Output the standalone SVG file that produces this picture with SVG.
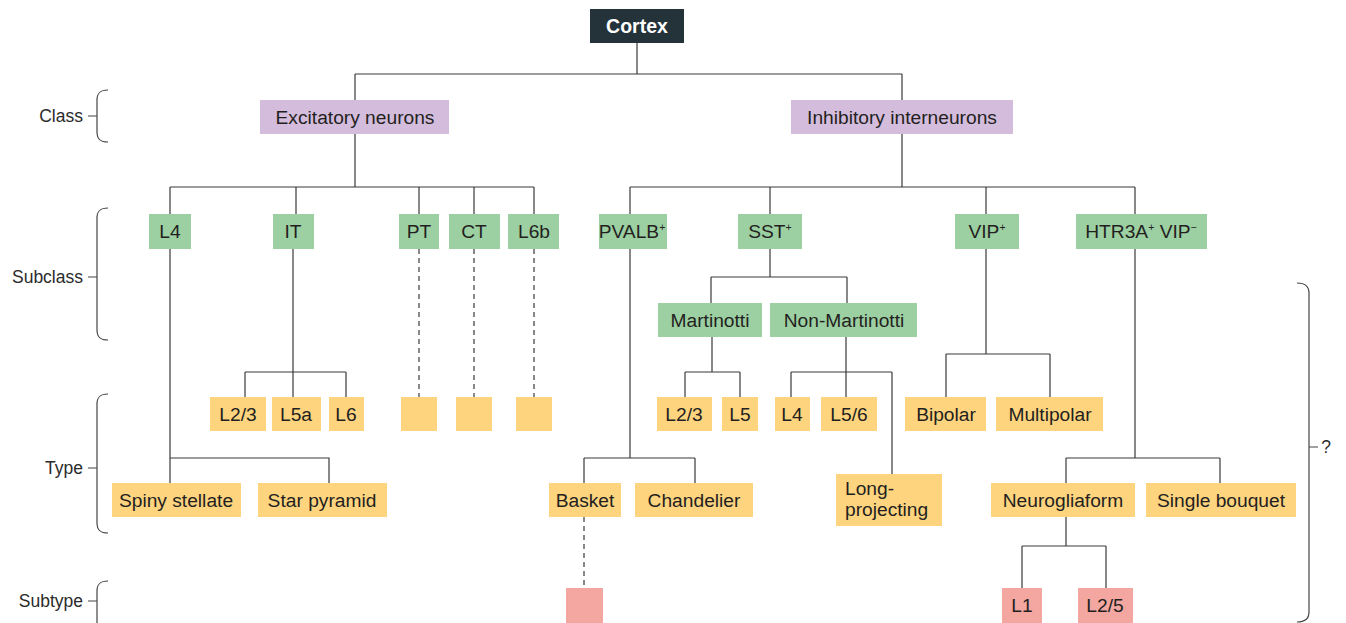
<svg xmlns="http://www.w3.org/2000/svg" width="1346" height="623" viewBox="0 0 1346 623">
<defs>
<style>
.bg{fill:#ffffff}
.lbl{font-family:"Liberation Sans",Arial,sans-serif;font-size:19.2px;fill:#231f20;text-anchor:middle}
.side{font-family:"Liberation Sans",Arial,sans-serif;font-size:17.5px;fill:#2b2b2b;text-anchor:end}
.root{fill:#24323a}
.cls{fill:#d4bcdc}
.sub{fill:#9ccfa2}
.typ{fill:#fed47f}
.st{fill:#f4a7a1}
.ln{fill:none;stroke:#3a3a3a;stroke-width:1.2}
.dash{fill:none;stroke:#3a3a3a;stroke-width:1.2;stroke-dasharray:5 4}
.br{fill:none;stroke:#444;stroke-width:1.2}
.sup{font-size:10.5px}
</style>
</defs>
<rect class="bg" width="1346" height="623"/>

<g id="level-labels">
<text class="side" x="83" y="122">Class</text>
<path class="br" d="M108,90 C100,90 97,93 97,100 V132 C97,139 100,142 108,142 M88,116 H97"/>
<text class="side" x="83" y="283">Subclass</text>
<path class="br" d="M108,208 C100,208 97,211 97,218 V330 C97,337 100,340 108,340 M88,277 H97"/>
<text class="side" x="83" y="474">Type</text>
<path class="br" d="M108,394 C100,394 97,397 97,404 V523 C97,530 100,533 108,533 M88,468 H97"/>
<text class="side" x="83" y="607">Subtype</text>
<path class="br" d="M108,581 C100,581 97,584 97,591 V630 M88,601 H97"/>
<path class="br" d="M1297,283 C1305,283 1309,286 1309,293 V612 C1309,619 1305,622 1297,622 M1309,447 H1318"/>
<text class="side" x="1331" y="453" style="text-anchor:end">?</text>
</g>

<g id="connectors">
<path class="ln" d="M637,43 V74 M355,74 H902 M355,74 V100 M902,74 V100"/>
<path class="ln" d="M355,134 V187 M170,187 H534 M170,187 V214 M296,187 V214 M419,187 V214 M474,187 V214 M534,187 V214"/>
<path class="ln" d="M902,134 V187 M630,187 H1135 M630,187 V214 M770,187 V214 M986,187 V214 M1135,187 V214"/>
<path class="ln" d="M170,249 V483 M170,458 H329 V483"/>
<path class="ln" d="M293,249 V397 M245,372 H346 M245,372 V397 M346,372 V397"/>
<path class="dash" d="M419,249 V397 M474,249 V397 M534,249 V397"/>
<path class="ln" d="M630,249 V458 M584,458 H695 M584,458 V483 M695,458 V483"/>
<path class="dash" d="M584,517 V588"/>
<path class="ln" d="M770,249 V277 M711,277 H847 M711,277 V303 M847,277 V303"/>
<path class="ln" d="M712,337 V372 M685,372 H740 M685,372 V397 M740,372 V397"/>
<path class="ln" d="M846,337 V397 M791,372 H892 M791,372 V397 M892,372 V474"/>
<path class="ln" d="M986,249 V354 M946,354 H1050 M946,354 V397 M1050,354 V397"/>
<path class="ln" d="M1135,249 V458 M1066,458 H1220 M1066,458 V483 M1220,458 V483"/>
<path class="ln" d="M1066,517 V546 M1022,546 H1106 M1022,546 V588 M1106,546 V588"/>
</g>

<g id="n-cortex"><rect class="root" x="590" y="9" width="94" height="34"/><text x="637" y="33" style="font-family:'Liberation Sans',Arial,sans-serif;font-size:19.5px;font-weight:bold;fill:#ffffff;text-anchor:middle">Cortex</text></g>

<g id="n-excitatory"><rect class="cls" x="260" y="100" width="189" height="34"/><text class="lbl" x="355" y="124">Excitatory neurons</text></g>
<g id="n-inhibitory"><rect class="cls" x="791" y="100" width="222" height="34"/><text class="lbl" x="902" y="124">Inhibitory interneurons</text></g>

<g id="n-l4"><rect class="sub" x="149" y="214" width="42" height="35"/><text class="lbl" x="170" y="238">L4</text></g>
<g id="n-it"><rect class="sub" x="273" y="214" width="41" height="35"/><text class="lbl" x="293" y="238">IT</text></g>
<g id="n-pt"><rect class="sub" x="399" y="214" width="40" height="35"/><text class="lbl" x="419" y="238">PT</text></g>
<g id="n-ct"><rect class="sub" x="449" y="214" width="51" height="35"/><text class="lbl" x="474" y="238">CT</text></g>
<g id="n-l6b"><rect class="sub" x="508" y="214" width="51" height="35"/><text class="lbl" x="534" y="238">L6b</text></g>
<g id="n-pvalb"><rect class="sub" x="599" y="214" width="68" height="35"/><text class="lbl" x="632" y="238">PVALB<tspan class="sup" dy="-7">+</tspan></text></g>
<g id="n-sst"><rect class="sub" x="738" y="214" width="64" height="35"/><text class="lbl" x="770" y="238">SST<tspan class="sup" dy="-7">+</tspan></text></g>
<g id="n-vip"><rect class="sub" x="955" y="214" width="64" height="35"/><text class="lbl" x="987" y="238">VIP<tspan class="sup" dy="-7">+</tspan></text></g>
<g id="n-htr3a"><rect class="sub" x="1076" y="214" width="131" height="35"/><text class="lbl" x="1141" y="238">HTR3A<tspan class="sup" dy="-7">+</tspan><tspan dy="7"> VIP</tspan><tspan class="sup" dy="-7">−</tspan></text></g>

<g id="n-martinotti"><rect class="sub" x="658" y="303" width="104" height="34"/><text class="lbl" x="710" y="327">Martinotti</text></g>
<g id="n-nonmartinotti"><rect class="sub" x="770" y="303" width="147" height="34"/><text class="lbl" x="844" y="327">Non-Martinotti</text></g>

<g id="n-it-l23"><rect class="typ" x="210" y="397" width="56" height="34"/><text class="lbl" x="238" y="421">L2/3</text></g>
<g id="n-it-l5a"><rect class="typ" x="272" y="397" width="49" height="34"/><text class="lbl" x="296" y="421">L5a</text></g>
<g id="n-it-l6"><rect class="typ" x="329" y="397" width="35" height="34"/><text class="lbl" x="346" y="421">L6</text></g>
<g id="n-pt-type"><rect class="typ" x="401" y="397" width="36" height="34"/></g>
<g id="n-ct-type"><rect class="typ" x="456" y="397" width="36" height="34"/></g>
<g id="n-l6b-type"><rect class="typ" x="516" y="397" width="36" height="34"/></g>
<g id="n-sst-l23"><rect class="typ" x="657" y="397" width="55" height="34"/><text class="lbl" x="684" y="421">L2/3</text></g>
<g id="n-sst-l5"><rect class="typ" x="722" y="397" width="36" height="34"/><text class="lbl" x="740" y="421">L5</text></g>
<g id="n-sst-l4"><rect class="typ" x="775" y="397" width="35" height="34"/><text class="lbl" x="792" y="421">L4</text></g>
<g id="n-sst-l56"><rect class="typ" x="821" y="397" width="56" height="34"/><text class="lbl" x="849" y="421">L5/6</text></g>
<g id="n-bipolar"><rect class="typ" x="905" y="397" width="81" height="34"/><text class="lbl" x="946" y="421">Bipolar</text></g>
<g id="n-multipolar"><rect class="typ" x="996" y="397" width="107" height="34"/><text class="lbl" x="1050" y="421">Multipolar</text></g>

<g id="n-spiny"><rect class="typ" x="112" y="483" width="129" height="34"/><text class="lbl" x="176" y="507">Spiny stellate</text></g>
<g id="n-starpyr"><rect class="typ" x="258" y="483" width="129" height="34"/><text class="lbl" x="322" y="507">Star pyramid</text></g>
<g id="n-basket"><rect class="typ" x="549" y="483" width="72" height="34"/><text class="lbl" x="585" y="507">Basket</text></g>
<g id="n-chandelier"><rect class="typ" x="635" y="483" width="118" height="34"/><text class="lbl" x="694" y="507">Chandelier</text></g>
<g id="n-longproj"><rect class="typ" x="836" y="474" width="106" height="52"/><text class="lbl" x="845" y="495" style="text-anchor:start">Long-</text><text class="lbl" x="845" y="516" style="text-anchor:start">projecting</text></g>
<g id="n-neurogliaform"><rect class="typ" x="991" y="483" width="144" height="34"/><text class="lbl" x="1063" y="507">Neurogliaform</text></g>
<g id="n-singlebouquet"><rect class="typ" x="1146" y="483" width="150" height="34"/><text class="lbl" x="1221" y="507">Single bouquet</text></g>

<g id="n-basket-sub"><rect class="st" x="566" y="588" width="37" height="35"/></g>
<g id="n-l1"><rect class="st" x="1002" y="588" width="40" height="35"/><text class="lbl" x="1022" y="612">L1</text></g>
<g id="n-l25"><rect class="st" x="1078" y="588" width="55" height="35"/><text class="lbl" x="1105" y="612">L2/5</text></g>
</svg>
